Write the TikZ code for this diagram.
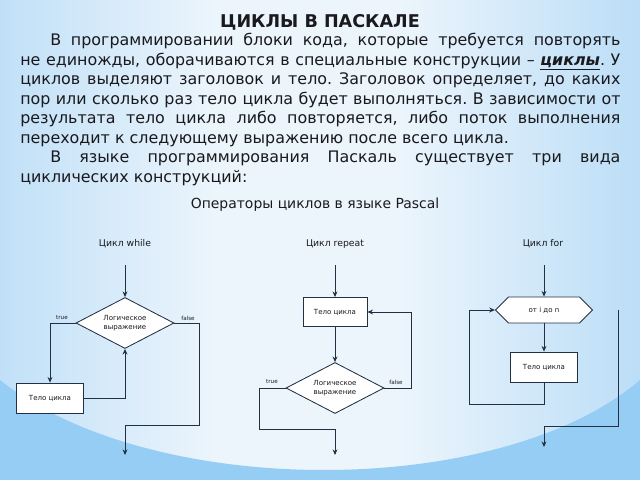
\documentclass[tikz,border=0pt]{standalone}
\usepackage{fontspec}
\setmainfont{DejaVu Sans}
\usetikzlibrary{shapes.geometric,shapes.symbols,arrows.meta}
\definecolor{edgeblue}{RGB}{132,195,240}
\definecolor{midblue}{RGB}{180,218,246}
\definecolor{paleblue}{RGB}{236,245,252}
\definecolor{lowblue}{RGB}{150,205,245}
\definecolor{lowmid}{RGB}{210,232,250}
\definecolor{ink}{RGB}{25,25,30}
\definecolor{wire}{RGB}{35,48,66}
\pgfdeclarehorizontalshading{bgshade}{100bp}{color(0bp)=(edgeblue); color(20bp)=(midblue); color(42bp)=(paleblue); color(56bp)=(paleblue); color(78bp)=(midblue); color(100bp)=(edgeblue)}
\tikzset{
  block/.style={rectangle, draw=wire, fill=white, line width=0.6pt, inner sep=0pt,
    text=ink, font=\fontsize{5}{6}\selectfont, align=center},
  cond/.style={block, diamond, minimum width=2.45cm, minimum height=1.275cm, shape aspect=2},
  hexa/.style={block, signal, signal to=west and east, signal pointer angle=90,
    minimum width=2.425cm, minimum height=0.65cm},
  caption/.style={text=ink, font=\fontsize{6.6}{8}\selectfont},
  tag/.style={text=ink, font=\fontsize{4}{5}\selectfont, inner sep=1pt},
  flow/.style={draw=wire, line width=0.6pt, -{Stealth[length=4pt,width=3.5pt]}},
  wirestyle/.style={draw=wire, line width=0.6pt}
}
\begin{document}
\frenchspacing
\begin{tikzpicture}[x=0.025cm,y=-0.025cm]
  \useasboundingbox (0,0) rectangle (640,480);
  % background
  \shade[shading=bgshade] (0,0) rectangle (640,480);
  \shade[left color=lowblue, middle color=lowmid, right color=lowblue]
    (0,380) .. controls (150,500) and (500,500) .. (640,380) -- (640,480) -- (0,480) -- cycle;
  % text
  \node[text=ink, font=\bfseries\fontsize{12.5}{14}\selectfont] (title) at (320,22) {ЦИКЛЫ В ПАСКАЛЕ};
  \node[anchor=north west, inner sep=0pt, text width=15cm, align=justify, text=ink,
    font=\fontsize{11.3}{13.9}\selectfont] (body) at (20,33) {%
    \hspace*{0.75cm}В программировании блоки кода, которые требуется повторять\linebreak
    не единожды, оборачиваются в специальные конструкции – \underline{\textbf{\textit{циклы}}}. У\linebreak
    циклов выделяют заголовок и тело. Заголовок определяет, до каких\linebreak
    пор или сколько раз тело цикла будет выполняться. В зависимости от\linebreak
    результата тело цикла либо повторяется, либо поток выполнения\linebreak
    переходит к следующему выражению после всего цикла.\par
    \hspace*{0.75cm}В языке программирования Паскаль существует три вида\linebreak
    циклических конструкций:};
  \node[text=ink, font=\fontsize{9.9}{12}\selectfont] (subhead) at (315,205) {Операторы циклов в языке Pascal};

  % while
  \node[caption] (wcap) at (125,244) {Цикл while};
  \coordinate (wtop) at (125,265);
  \node[cond] (wcond) at (125,323) {Логическое\\выражение};
  \node[block, minimum width=1.675cm, minimum height=0.75cm] (wbody) at (50,398) {Тело цикла};
  \coordinate (wexit) at (125,425);
  \coordinate (wend) at (125,455);
  \draw[flow] (wtop) -- (wcond.north);
  \draw[flow] (wcond.west) -| (wbody.north);
  \draw[flow] (wbody.east) -| (wcond.south);
  \draw[flow] (wcond.east) -- ++(25,0) |- (wexit) -- (wend);
  \node[tag] (wtrue) at (62,318) {true};
  \node[tag] (wfalse) at (188,318) {false};

  % repeat
  \node[caption] (rcap) at (335,244) {Цикл repeat};
  \coordinate (rtop) at (335,265);
  \node[block, minimum width=1.6cm, minimum height=0.725cm] (rbody) at (335,312) {Тело цикла};
  \node[cond] (rcond) at (335,388) {Логическое\\выражение};
  \coordinate (rexit) at (335,429);
  \coordinate (rend) at (335,455);
  \draw[flow] (rtop) -- (rbody.north);
  \draw[flow] (rbody.south) -- (rcond.north);
  \draw[flow] (rcond.east) -- ++(27,0) |- (rbody.east);
  \draw[flow] (rcond.west) -- ++(-26,0) |- (rexit) -- (rend);
  \node[tag] (rtrue) at (272,382) {true};
  \node[tag] (rfalse) at (396,382) {false};

  % for
  \node[caption] (fcap) at (543,244) {Цикл for};
  \coordinate (ftop) at (544,265);
  \node[hexa] (fhead) at (544,310) {от i до n};
  \node[block, minimum width=1.675cm, minimum height=0.75cm] (fbody) at (544,367) {Тело цикла};
  \coordinate (fback) at (469,404);
  \coordinate (fout) at (618,310);
  \coordinate (fexit) at (544,426);
  \coordinate (fend) at (544,447);
  \draw[flow] (ftop) -- (fhead.north);
  \draw[flow] (fhead.south) -- (fbody.north);
  \draw[flow] (fbody.south) |- (fback) |- (fhead.west);
  \draw[flow] (fout) |- (fexit) -- (fend);
\end{tikzpicture}
\end{document}
